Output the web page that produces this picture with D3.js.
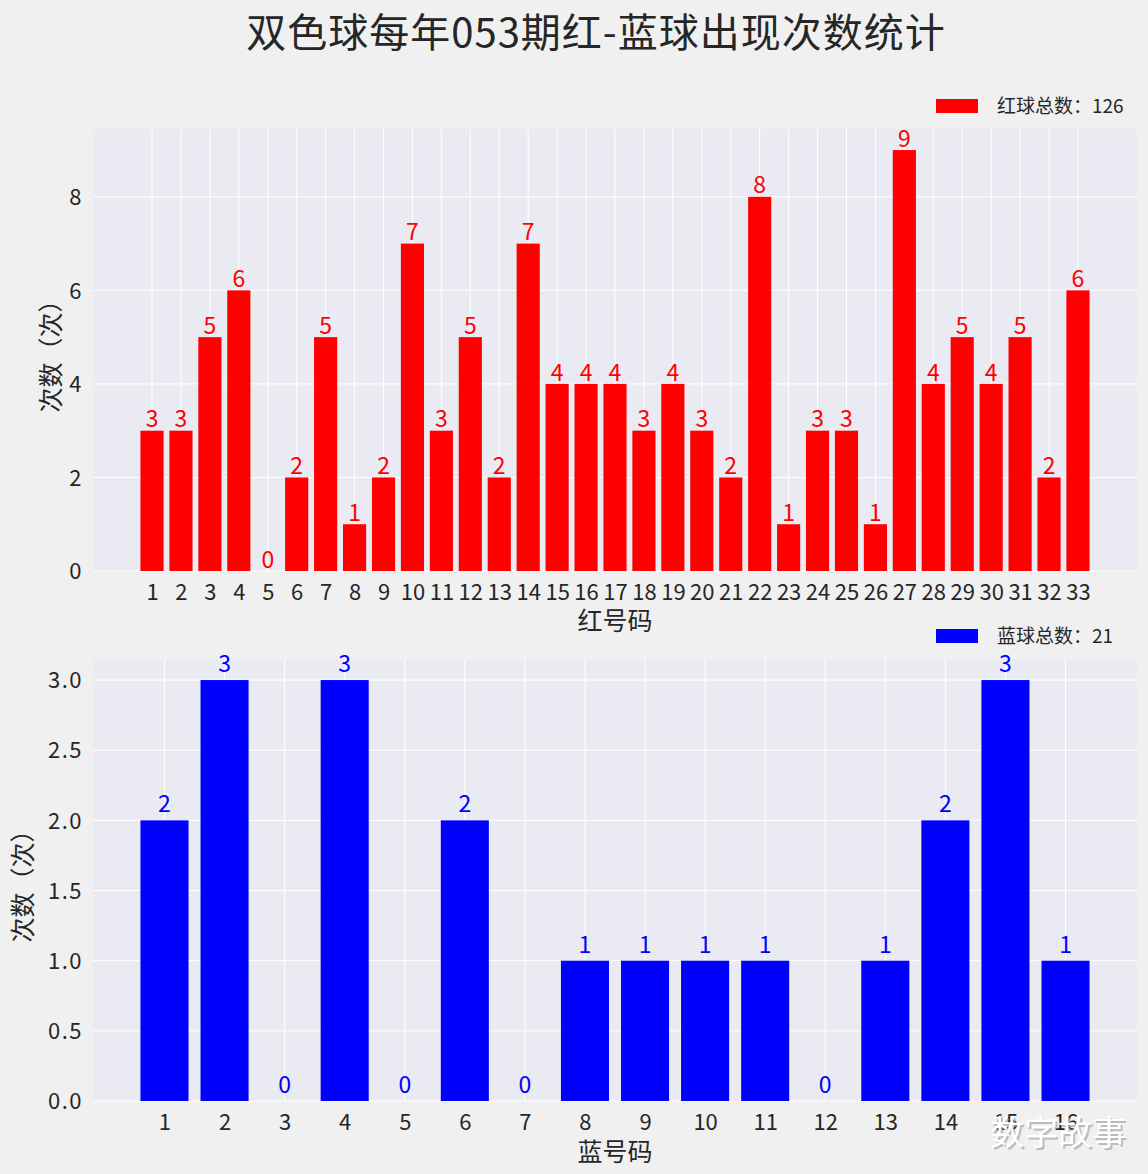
<!DOCTYPE html>
<html><head><meta charset="utf-8">
<script src="https://cdn.jsdelivr.net/npm/d3@7"></script>
<style>
html,body{margin:0;padding:0;background:#f0f0f0;}
svg{display:block;font-family:"Noto Sans CJK SC","Noto Sans",sans-serif;}
</style></head>
<body>
<script>
const title = "双色球每年053期红-蓝球出现次数统计";
const redCategories = d3.range(1, 34).map(String);
const redValues = [3,3,5,6,0,2,5,1,2,7,3,5,2,7,4,4,4,3,4,3,2,8,1,3,3,1,9,4,5,4,5,2,6];
const redTicks = [0,2,4,6,8];
const blueCategories = d3.range(1, 17).map(String);
const blueValues = [2,3,0,3,0,2,0,1,1,1,1,0,1,2,3,1];
const blueTicks = [0,0.5,1.0,1.5,2.0,2.5,3.0];
const redLegend = "红球总数：" + d3.sum(redValues);
const blueLegend = "蓝球总数：" + d3.sum(blueValues);
const yLabel = "次数（次）";

const W = 1148, H = 1174;
const svg = d3.select("body").append("svg").attr("width", W).attr("height", H);
svg.append("rect").attr("width", W).attr("height", H).attr("fill", "#f0f0f0");

svg.append("text").attr("x", 596).attr("y", 47).attr("text-anchor", "middle")
  .attr("font-size", 40).attr("letter-spacing", 1).attr("fill", "#262626").text(title);

function panel(opts) {
  const {cats, vals, ticks, top, bottom, left, right, color, xlabel, ylabelX, legend, legendY, tickFmt, xlabelY} = opts;
  const n = cats.length;
  const x = d3.scaleLinear().domain([0.6 - 0.05*(n-0.2) , n + 0.4 + 0.05*(n-0.2)]).range([left, right]);
  const ymax = d3.max(vals) * 1.05;
  const y = d3.scaleLinear().domain([0, ymax]).range([bottom, top]);
  const g = svg.append("g");
  g.append("rect").attr("x", left).attr("y", top).attr("width", right-left).attr("height", bottom-top).attr("fill", "#eaeaf2");
  // grid
  g.selectAll(".vg").data(cats).enter().append("line")
    .attr("x1", (d,i)=>x(i+1)).attr("x2", (d,i)=>x(i+1)).attr("y1", top).attr("y2", bottom)
    .attr("stroke", "#fff").attr("stroke-width", 1);
  g.selectAll(".hg").data(ticks).enter().append("line")
    .attr("x1", left).attr("x2", right).attr("y1", d=>y(d)).attr("y2", d=>y(d))
    .attr("stroke", "#fff").attr("stroke-width", 1);
  // bars
  const bw = x(1.8) - x(1);
  g.selectAll(".bar").data(vals).enter().append("rect")
    .attr("x", (d,i)=>x(i+1) - bw/2).attr("width", bw)
    .attr("y", d=>y(d)).attr("height", d=>bottom - y(d)).attr("fill", color);
  // value labels
  g.selectAll(".vl").data(vals).enter().append("text")
    .attr("x", (d,i)=>x(i+1)).attr("y", d=>y(d+0.05) - 1)
    .attr("text-anchor", "middle").attr("font-size", 23).attr("fill", color).text(d=>d);
  // axes (matplotlib style: no tick marks)
  const xa = d3.axisBottom(x).tickValues(d3.range(1, n+1)).tickSize(0).tickPadding(0).tickFormat(d=>cats[d-1]);
  const xg = g.append("g").attr("transform", `translate(0,${bottom})`).call(xa);
  xg.select(".domain").remove();
  xg.selectAll("text").attr("font-size", 22).attr("fill", "#262626").attr("dy", null).attr("y", 29)
    .attr("font-family", '"Noto Sans CJK SC",sans-serif');
  const ya = d3.axisLeft(y).tickValues(ticks).tickSize(0).tickPadding(0).tickFormat(tickFmt);
  const yg = g.append("g").attr("transform", `translate(${left-10},0)`).call(ya);
  yg.select(".domain").remove();
  yg.selectAll("text").attr("font-size", 22).attr("fill", "#262626").attr("dy", "0.35em").attr("letter-spacing", 1.5)
    .attr("font-family", '"Noto Sans CJK SC",sans-serif');
  // axis labels
  svg.append("text").attr("x", (left+right)/2).attr("y", xlabelY).attr("text-anchor", "middle")
    .attr("font-size", 25).attr("fill", "#262626").text(xlabel);
  svg.append("text").attr("transform", `translate(${ylabelX},${(top+bottom)/2}) rotate(-90)`)
    .attr("text-anchor", "middle").attr("font-size", 25).attr("fill", "#262626").text(yLabel);
  // legend
  svg.append("rect").attr("x", 936).attr("y", legendY).attr("width", 42).attr("height", 14).attr("fill", color);
  svg.append("text").attr("x", 997).attr("y", legendY + 14).attr("font-size", 19).attr("fill", "#262626").text(legend);
}

panel({cats: redCategories, vals: redValues, ticks: redTicks, top: 129, bottom: 571, left: 93, right: 1137,
  color: "#ff0000", xlabel: "红号码", ylabelX: 60, legend: redLegend, legendY: 99, tickFmt: d=>d, xlabelY: 630});
panel({cats: blueCategories, vals: blueValues, ticks: blueTicks, top: 659, bottom: 1101, left: 93, right: 1137,
  color: "#0000ff", xlabel: "蓝号码", ylabelX: 32, legend: blueLegend, legendY: 629, tickFmt: d3.format(".1f"), xlabelY: 1161});

// watermark
const wm = svg.append("g");
wm.append("text").attr("x", 1060).attr("y", 1147).attr("text-anchor", "middle").attr("font-size", 34)
  .attr("fill", "#999").attr("opacity", 0.6).text("数字故事");
wm.append("text").attr("x", 1058).attr("y", 1145).attr("text-anchor", "middle").attr("font-size", 34)
  .attr("fill", "#ffffff").text("数字故事");
</script>
</body></html>
